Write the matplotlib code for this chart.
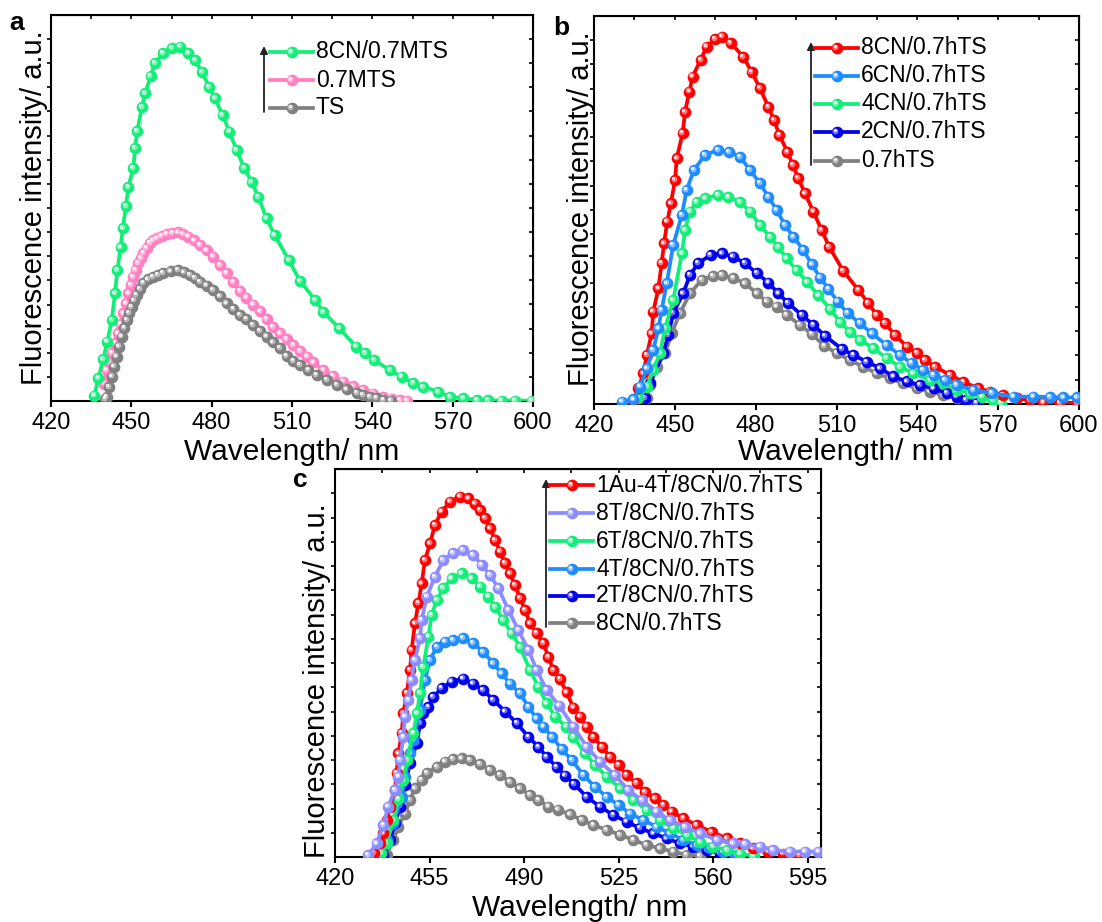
import numpy as np
import matplotlib
matplotlib.use("Agg")
import matplotlib.pyplot as plt
from matplotlib.colors import to_rgb
from matplotlib.transforms import offset_copy

plt.rcParams['font.family'] = ['Liberation Sans', 'DejaVu Sans']

# ---------------- panel a ----------------
a_names = ["8CN/0.7MTS", "0.7MTS", "TS"]
a_colors = ["#12ee78", "#ff7fc0", "#808080"]

a_green_x = [436.2, 437.7, 439.5, 441.0, 442.7, 443.9, 444.8, 446.0, 446.8, 448.0,
             448.9, 450.7, 451.4, 452.2, 453.9, 455.2, 457.2, 458.8, 461.9, 465.1,
             468.2, 471.3, 473.8, 476.3, 479.1, 481.2, 484.1, 486.6, 489.3, 492.2,
             494.9, 497.4, 500.5, 503.5, 508.8, 513.0, 518.6, 521.7, 527.7, 533.9,
             537.2, 540.6, 546.6, 550.9, 555.3, 559.0, 564.6, 569.0, 574.0, 579.0,
             583.3, 588.3, 593.3, 599.5]
a_green_y = [0.014, 0.060, 0.108, 0.154, 0.210, 0.279, 0.339, 0.398, 0.447, 0.505,
             0.555, 0.603, 0.655, 0.700, 0.761, 0.797, 0.842, 0.875, 0.901, 0.915,
             0.918, 0.901, 0.883, 0.853, 0.814, 0.784, 0.741, 0.698, 0.650, 0.603,
             0.568, 0.529, 0.473, 0.430, 0.365, 0.311, 0.262, 0.231, 0.188, 0.141,
             0.124, 0.106, 0.080, 0.063, 0.046, 0.037, 0.024, 0.011, 0.007, 0.003,
             0.002, 0.001, 0.001, 0.001]

a_pink_x = [439.8, 440.8, 441.7, 442.7, 443.9, 445.1, 446.0, 447.0, 448.0, 448.9,
            449.8, 450.7, 451.6, 452.6, 453.5, 454.5, 455.7, 457.0, 458.2, 459.5,
            461.3, 463.2, 465.3, 467.5, 469.4, 471.3, 473.4, 475.6, 478.1, 480.6,
            483.1, 485.6, 488.1, 490.6, 493.0, 495.5, 498.0, 500.5, 503.0, 505.5,
            508.0, 510.5, 513.0, 515.5, 518.0, 521.7, 525.4, 529.1, 532.8, 536.6,
            540.3, 544.1, 547.2, 550.3, 553.0]
a_pink_y = [0.045, 0.080, 0.100, 0.124, 0.150, 0.175, 0.200, 0.227, 0.253, 0.279,
            0.300, 0.322, 0.340, 0.357, 0.370, 0.383, 0.397, 0.409, 0.416, 0.421,
            0.427, 0.432, 0.436, 0.437, 0.433, 0.426, 0.416, 0.404, 0.390, 0.374,
            0.353, 0.331, 0.308, 0.285, 0.268, 0.250, 0.232, 0.212, 0.192, 0.175,
            0.160, 0.145, 0.130, 0.115, 0.100, 0.080, 0.064, 0.050, 0.038, 0.028,
            0.019, 0.011, 0.006, 0.003, 0.001]

a_gray_x = [440.3, 440.8, 441.7, 442.7, 443.6, 444.5, 445.5, 446.4, 447.4, 448.3,
            449.2, 450.1, 451.1, 452.0, 453.2, 454.5, 456.3, 458.2, 460.0, 461.9,
            464.7, 467.5, 469.7, 471.9, 473.8, 475.6, 478.1, 480.6, 483.1, 485.6,
            488.1, 490.6, 493.0, 495.5, 498.0, 500.5, 503.0, 505.5, 508.0, 510.5,
            513.0, 516.1, 519.2, 523.0, 526.7, 530.4, 534.2, 536.6, 539.1, 541.6,
            544.1, 547.0]
a_gray_y = [0.005, 0.011, 0.037, 0.063, 0.089, 0.115, 0.141, 0.167, 0.189, 0.210,
            0.228, 0.244, 0.260, 0.275, 0.290, 0.305, 0.315, 0.322, 0.327, 0.331,
            0.336, 0.339, 0.333, 0.326, 0.318, 0.309, 0.299, 0.288, 0.271, 0.253,
            0.238, 0.223, 0.212, 0.197, 0.182, 0.167, 0.152, 0.137, 0.116, 0.104,
            0.093, 0.080, 0.067, 0.054, 0.041, 0.030, 0.020, 0.015, 0.011, 0.007,
            0.003, 0.001]

# ---------------- panel b ----------------
b_names = ["8CN/0.7hTS", "6CN/0.7hTS", "4CN/0.7hTS", "2CN/0.7hTS", "0.7hTS"]
b_colors = ["#ff0000", "#1e8cff", "#12ee78", "#0000f0", "#808080"]

b_red_x = [434.5, 436.5, 438.3, 439.6, 441.4, 442.0, 443.9, 445.1, 446.0, 447.2,
           448.5, 450.1, 450.7, 452.9, 453.8, 455.4, 456.6, 459.6, 461.8, 464.9,
           467.6, 470.7, 475.4, 478.5, 481.6, 484.7, 486.8, 488.8, 491.8, 493.8,
           495.8, 498.3, 501.4, 504.5, 507.3, 512.5, 518.1, 521.8, 524.9, 528.0,
           531.7, 536.1, 539.8, 542.9, 546.6, 552.1, 557.1, 562.7, 567.0, 571.9,
           576.9, 581.8, 586.8, 593.0, 599.2]
b_red_y = [0.010, 0.040, 0.079, 0.126, 0.182, 0.238, 0.298, 0.363, 0.414, 0.470,
           0.517, 0.577, 0.633, 0.698, 0.753, 0.805, 0.844, 0.887, 0.921, 0.940,
           0.947, 0.931, 0.895, 0.856, 0.814, 0.766, 0.732, 0.693, 0.650, 0.616,
           0.582, 0.543, 0.496, 0.448, 0.405, 0.343, 0.294, 0.260, 0.229, 0.208,
           0.178, 0.148, 0.131, 0.113, 0.096, 0.075, 0.057, 0.040, 0.032, 0.023,
           0.015, 0.010, 0.004, 0.003, 0.003]

b_lblue_x = [430.3, 434.6, 437.1, 439.6, 442.0, 443.9, 445.1, 447.0, 449.4, 452.6,
             454.4, 457.1, 461.2, 466.1, 470.2, 474.2, 477.9, 481.6, 484.7, 487.8,
             490.9, 494.0, 497.7, 500.8, 503.9, 507.0, 510.4, 514.1, 518.7, 523.1,
             528.6, 533.6, 537.9, 542.2, 546.0, 550.3, 554.6, 560.8, 567.6, 575.7,
             583.1, 589.3, 594.2, 599.2]
b_lblue_y = [0.006, 0.012, 0.045, 0.092, 0.139, 0.195, 0.242, 0.311, 0.410, 0.487,
             0.552, 0.603, 0.642, 0.655, 0.650, 0.637, 0.603, 0.569, 0.534, 0.500,
             0.461, 0.431, 0.397, 0.360, 0.326, 0.297, 0.264, 0.234, 0.208, 0.182,
             0.152, 0.126, 0.105, 0.088, 0.075, 0.062, 0.049, 0.036, 0.028, 0.019,
             0.019, 0.018, 0.017, 0.017]

b_green_x = [436.5, 439.6, 442.0, 444.5, 446.4, 449.4, 452.6, 453.8, 455.6, 458.1,
             461.2, 466.1, 469.9, 474.2, 477.9, 481.6, 485.3, 488.4, 491.5, 495.2,
             499.0, 503.3, 507.6, 511.3, 515.0, 518.7, 523.7, 528.6, 533.6, 538.5,
             544.7, 549.6, 554.6, 559.6, 563.9, 568.2, 571.0]
b_green_y = [0.015, 0.045, 0.088, 0.131, 0.195, 0.268, 0.388, 0.448, 0.496, 0.521,
             0.530, 0.539, 0.534, 0.521, 0.496, 0.461, 0.431, 0.405, 0.375, 0.345,
             0.315, 0.280, 0.245, 0.212, 0.186, 0.165, 0.144, 0.118, 0.096, 0.079,
             0.062, 0.053, 0.036, 0.028, 0.019, 0.010, 0.003]

b_blue_x = [438.9, 440.8, 445.7, 447.6, 449.4, 453.1, 455.6, 458.7, 463.3, 467.4,
            471.5, 476.0, 480.4, 484.7, 488.4, 492.1, 497.1, 501.4, 505.8, 512.0,
            516.3, 521.2, 526.2, 531.1, 536.1, 541.0, 546.0, 550.9, 554.6, 558.0,
            562.0]
b_blue_y = [0.015, 0.053, 0.131, 0.178, 0.234, 0.285, 0.332, 0.363, 0.384, 0.388,
            0.380, 0.363, 0.337, 0.313, 0.285, 0.260, 0.229, 0.204, 0.175, 0.142,
            0.126, 0.109, 0.092, 0.071, 0.058, 0.049, 0.040, 0.028, 0.019, 0.010,
            0.003]

b_gray_x = [439.5, 440.8, 443.3, 446.4, 448.8, 451.9, 455.6, 460.0, 464.1, 467.4,
            471.7, 476.1, 480.4, 484.1, 487.8, 491.5, 496.5, 500.8, 505.5, 510.1,
            515.0, 520.0, 524.9, 529.9, 534.8, 539.8, 544.7, 549.7, 554.6, 559.6]
b_gray_y = [0.015, 0.050, 0.096, 0.131, 0.182, 0.234, 0.285, 0.320, 0.330, 0.332,
            0.324, 0.311, 0.285, 0.264, 0.251, 0.229, 0.204, 0.180, 0.150, 0.131,
            0.113, 0.096, 0.079, 0.066, 0.053, 0.040, 0.032, 0.023, 0.015, 0.003]

# ---------------- panel c ----------------
c_names = ["1Au-4T/8CN/0.7hTS", "8T/8CN/0.7hTS", "6T/8CN/0.7hTS",
           "4T/8CN/0.7hTS", "2T/8CN/0.7hTS", "8CN/0.7hTS"]
c_colors = ["#ff0000", "#8c8cff", "#12ee78", "#1e8cff", "#0000f0", "#808080"]

c_red_x = [434.5, 436.7, 437.9, 439.1, 440.4, 442.2, 442.8, 443.5, 444.7, 445.3,
           446.6, 447.8, 448.4, 449.6, 450.9, 452.1, 453.3, 455.2, 457.0, 459.5,
           462.6, 466.3, 469.4, 471.9, 473.7, 475.6, 477.4, 479.3, 481.1, 483.0,
           484.8, 486.7, 488.5, 490.4, 492.2, 494.7, 497.2, 499.0, 500.9, 503.3,
           505.8, 508.3, 510.7, 513.2, 515.7, 518.8, 521.9, 525.0, 528.0, 531.7,
           534.8, 538.5, 541.6, 544.7, 549.0, 553.9, 559.5, 565.1, 570.0, 574.9,
           580.5, 586.0, 592.0]
c_red_y = [0.010, 0.035, 0.061, 0.095, 0.130, 0.173, 0.216, 0.267, 0.319, 0.370,
           0.422, 0.482, 0.534, 0.602, 0.654, 0.705, 0.765, 0.808, 0.856, 0.890,
           0.916, 0.929, 0.924, 0.911, 0.894, 0.873, 0.847, 0.817, 0.787, 0.757,
           0.731, 0.701, 0.667, 0.637, 0.602, 0.577, 0.551, 0.516, 0.482, 0.458,
           0.424, 0.385, 0.362, 0.336, 0.310, 0.284, 0.258, 0.237, 0.211, 0.190,
           0.168, 0.151, 0.134, 0.117, 0.100, 0.082, 0.065, 0.048, 0.035, 0.022,
           0.014, 0.009, 0.005]

c_lav_x = [432.3, 435.4, 437.9, 439.7, 442.2, 443.5, 444.1, 445.3, 445.9, 447.2,
           448.4, 449.6, 451.5, 452.1, 454.0, 457.0, 460.1, 463.8, 467.5, 471.2,
           474.3, 477.4, 480.5, 484.2, 487.9, 491.6, 494.7, 498.4, 503.0, 508.3,
           513.2, 518.1, 523.7, 528.6, 533.6, 539.1, 544.1, 549.6, 555.2, 561.4,
           567.5, 571.8, 577.4, 582.3, 588.5, 594.1, 599.0]
c_lav_y = [0.005, 0.035, 0.082, 0.130, 0.173, 0.207, 0.250, 0.310, 0.362, 0.405,
           0.456, 0.508, 0.564, 0.611, 0.671, 0.722, 0.765, 0.784, 0.791, 0.778,
           0.753, 0.727, 0.693, 0.637, 0.585, 0.534, 0.482, 0.430, 0.390, 0.336,
           0.284, 0.246, 0.211, 0.173, 0.147, 0.117, 0.095, 0.078, 0.061, 0.044,
           0.035, 0.033, 0.027, 0.018, 0.014, 0.014, 0.014]

c_green_x = [437.0, 439.1, 441.6, 443.5, 445.3, 446.6, 449.0, 450.3, 451.5, 452.7,
             454.6, 455.8, 457.7, 460.1, 463.2, 466.9, 470.6, 473.7, 476.8, 479.3,
             482.3, 485.4, 488.5, 492.2, 495.3, 498.4, 501.5, 505.5, 508.3, 512.6,
             516.3, 520.6, 525.6, 530.5, 535.4, 540.4, 545.3, 550.3, 555.2, 560.1,
             565.1, 570.0, 575.0]
c_green_y = [0.010, 0.035, 0.095, 0.150, 0.198, 0.250, 0.319, 0.370, 0.422, 0.490,
             0.568, 0.624, 0.662, 0.693, 0.718, 0.731, 0.718, 0.697, 0.671, 0.645,
             0.611, 0.577, 0.542, 0.482, 0.439, 0.396, 0.362, 0.336, 0.310, 0.267,
             0.237, 0.207, 0.177, 0.147, 0.121, 0.095, 0.074, 0.057, 0.039, 0.027,
             0.018, 0.009, 0.003]

c_lblue_x = [436.7, 439.1, 441.6, 444.7, 445.9, 447.8, 449.0, 451.5, 453.3, 455.2,
             457.7, 460.7, 463.8, 467.5, 471.2, 474.9, 478.6, 481.7, 484.8, 488.5,
             491.6, 494.7, 497.2, 500.3, 504.0, 507.7, 512.0, 516.3, 520.6, 525.0,
             529.3, 534.2, 539.1, 544.1, 549.0, 554.0, 558.9, 563.8, 568.8]
c_lblue_y = [0.009, 0.044, 0.087, 0.155, 0.207, 0.267, 0.302, 0.379, 0.456, 0.508,
             0.542, 0.555, 0.559, 0.564, 0.551, 0.529, 0.499, 0.473, 0.447, 0.422,
             0.387, 0.357, 0.336, 0.310, 0.278, 0.250, 0.211, 0.181, 0.155, 0.134,
             0.112, 0.095, 0.078, 0.061, 0.044, 0.031, 0.022, 0.014, 0.005]

c_blue_x = [437.9, 440.4, 442.2, 444.1, 445.9, 447.8, 450.3, 451.5, 452.7, 454.6,
            456.4, 459.5, 463.2, 467.5, 471.2, 474.9, 478.6, 483.0, 487.3, 491.6,
            495.3, 498.4, 502.1, 505.2, 508.6, 513.2, 518.1, 523.1, 528.0, 533.0,
            537.9, 542.8, 547.8, 552.7, 557.7, 562.6, 567.6]
c_blue_y = [0.005, 0.044, 0.087, 0.130, 0.186, 0.241, 0.293, 0.345, 0.370, 0.387,
            0.413, 0.435, 0.452, 0.460, 0.447, 0.430, 0.405, 0.375, 0.345, 0.310,
            0.284, 0.258, 0.232, 0.210, 0.188, 0.155, 0.130, 0.108, 0.091, 0.074,
            0.061, 0.048, 0.035, 0.027, 0.018, 0.009, 0.003]

c_gray_x = [439.1, 441.6, 443.5, 445.9, 447.8, 449.6, 452.1, 454.0, 457.7, 460.7,
            463.8, 466.9, 470.0, 473.7, 477.4, 481.1, 484.8, 488.5, 492.2, 495.3,
            499.0, 502.6, 507.0, 511.4, 515.7, 520.6, 525.6, 530.5, 535.4, 540.4,
            545.3, 550.2, 555.2]
c_gray_y = [0.005, 0.044, 0.078, 0.112, 0.147, 0.177, 0.198, 0.216, 0.232, 0.246,
            0.252, 0.254, 0.250, 0.240, 0.224, 0.211, 0.194, 0.177, 0.160, 0.147,
            0.130, 0.122, 0.110, 0.095, 0.082, 0.070, 0.057, 0.044, 0.031, 0.022,
            0.014, 0.005, 0.003]

W, H = 1102, 922
fig = plt.figure(figsize=(W / 100, H / 100), dpi=100)

LW = 2.7
MS = 8.4


def lighter(c, f):
    r, g, b = to_rgb(c)
    return (r + (1 - r) * f, g + (1 - g) * f, b + (1 - b) * f)


def balls(ax, x, y, color, z, trans=None, clip=True):
    base = ax.transData if trans is None else trans
    ax.plot(x, y, '-o', color=color, lw=LW, ms=MS, mec='none', zorder=z,
            transform=base, clip_on=clip)
    t1 = offset_copy(base, fig=fig, x=-1.2, y=1.2, units='dots')
    ax.plot(x, y, 'o', color=lighter(color, 0.45), ms=MS * 0.5, mec='none',
            transform=t1, zorder=z + 0.1, clip_on=clip)
    t2 = offset_copy(base, fig=fig, x=-1.8, y=1.8, units='dots')
    ax.plot(x, y, 'o', color='white', ms=MS * 0.25, mec='none',
            transform=t2, zorder=z + 0.2, clip_on=clip)


def make_axes(left, top, right, bottom, major, step):
    ax = fig.add_axes([left / W, 1 - bottom / H, (right - left) / W, (bottom - top) / H])
    ax.set_xlim(420, 600)
    ax.set_ylim(0, 1)
    ax.set_xticks(major)
    ax.set_yticks(np.arange(1, 16) / 16)
    ax.set_yticklabels([])
    for s in ax.spines.values():
        s.set_linewidth(1.5)
    ax.tick_params(axis='x', direction='out', length=4, width=1.5,
                   labelsize=17, pad=4)
    ax.tick_params(axis='y', direction='out', length=3, width=1.2)
    top_ax = ax.secondary_xaxis('top')
    top_ax.set_xticks(np.arange(420, 600.1, step))
    top_ax.tick_params(direction='in', length=3, width=1.2, labeltop=False)
    right_ax = ax.secondary_yaxis('right')
    right_ax.set_yticks(np.arange(1, 16) / 16)
    right_ax.tick_params(direction='in', length=3, width=1.2, labelright=False)
    ax.pix = (left, top, right, bottom)
    return ax


def legend(ax, names, colors, x_arrow, x0, x1, x_text, y_rows):
    left, top, right, bottom = ax.pix
    fx = lambda p: (p - left) / (right - left)
    fy = lambda p: (bottom - p) / (bottom - top)
    for n, c, yr in zip(names, colors, y_rows):
        ax.plot([fx(x0), fx(x1)], [fy(yr), fy(yr)], '-', color=c, lw=LW,
                transform=ax.transAxes, clip_on=False, zorder=20)
        balls(ax, [fx((x0 + x1) / 2)], [fy(yr)], c, 20, trans=ax.transAxes, clip=False)
        ax.text(fx(x_text), fy(yr), n, transform=ax.transAxes, fontsize=16.5,
                va='center', ha='left')
    ax.annotate('', xy=(fx(x_arrow), fy(y_rows[0] - 6)),
                xytext=(fx(x_arrow), fy(y_rows[-1] + 4)),
                xycoords='axes fraction',
                arrowprops=dict(arrowstyle='-|>', color='#222222', lw=1.3,
                                mutation_scale=11, shrinkA=0, shrinkB=0))


def labels(x_y, y_y, x_x, y_x):
    fig.text(x_x / W, 1 - x_y / H, "Wavelength/ nm", fontsize=21.5,
             ha='center', va='baseline')
    fig.text(y_x / W, 1 - y_y / H, "Fluorescence intensity/ a.u.", fontsize=21,
             ha='center', va='center', rotation=90)


# panel a
axa = make_axes(51, 15, 533, 401, np.arange(420, 601, 30), 15)
balls(axa, a_pink_x, a_pink_y, a_colors[1], 3)
balls(axa, a_gray_x, a_gray_y, a_colors[2], 4)
balls(axa, a_green_x, a_green_y, a_colors[0], 5)
legend(axa, a_names, a_colors, 264, 270, 313, 316, [52, 80, 108])
labels(460, 208, 292, 34)
fig.text(9 / W, 1 - 30 / H, "a", fontsize=19, fontweight='bold', ha='left', va='baseline')

# panel b
axb = make_axes(594, 16, 1079, 404, np.arange(420, 601, 30), 15)
balls(axb, b_gray_x, b_gray_y, b_colors[4], 3)
balls(axb, b_blue_x, b_blue_y, b_colors[3], 4)
balls(axb, b_green_x, b_green_y, b_colors[2], 5)
balls(axb, b_red_x, b_red_y, b_colors[0], 6)
balls(axb, b_lblue_x, b_lblue_y, b_colors[1], 7)
legend(axb, b_names, b_colors, 811, 815, 858, 861, [48, 76, 104, 132, 161])
labels(460, 209, 846, 581)
fig.text(553 / W, 1 - 35 / H, "b", fontsize=19, fontweight='bold', ha='left', va='baseline')

# panel c
axc = make_axes(335, 469, 821, 857, np.arange(420, 600, 35), 17.5)
balls(axc, c_gray_x, c_gray_y, c_colors[5], 3)
balls(axc, c_blue_x, c_blue_y, c_colors[4], 4)
balls(axc, c_lblue_x, c_lblue_y, c_colors[3], 5)
balls(axc, c_green_x, c_green_y, c_colors[2], 6)
balls(axc, c_red_x, c_red_y, c_colors[0], 7)
balls(axc, c_lav_x, c_lav_y, c_colors[1], 8)
legend(axc, c_names, c_colors, 546, 550, 593, 596, [485, 513, 541, 569, 596, 623])
labels(916, 681, 580, 317)
fig.text(293 / W, 1 - 487 / H, "c", fontsize=19, fontweight='bold', ha='left', va='baseline')

fig.savefig("out.png", dpi=100)
